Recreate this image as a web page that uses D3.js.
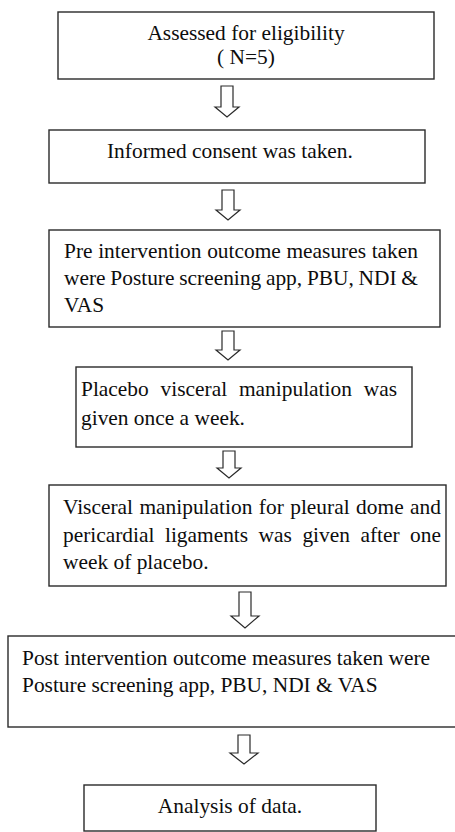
<!DOCTYPE html>
<html>
<head>
<meta charset="utf-8">
<script src="https://cdn.jsdelivr.net/npm/d3@7"></script>
<style>
  html, body { margin: 0; padding: 0; background: #fff; }
  svg { display: block; }
  text { font-family: "Liberation Serif", "Times New Roman", serif; fill: #0d0d0d; }
</style>
</head>
<body>
<svg id="chart" width="455" height="832"></svg>
<script>
// ---- Content (flowchart steps) ----
const steps = [
  "Assessed for eligibility",
  "Informed consent",
  "Pre intervention measures",
  "Placebo",
  "Visceral manipulation",
  "Post intervention measures",
  "Analysis"
];
const stepLines = [
  ["Assessed for eligibility", "( N=5)"],
  ["Informed consent was taken."],
  ["Pre intervention outcome measures taken", "were Posture screening app, PBU, NDI &", "VAS"],
  ["Placebo visceral manipulation was", "given once a week."],
  ["Visceral manipulation for pleural dome and", "pericardial ligaments was given after one", "week of placebo."],
  ["Post intervention outcome measures taken were", "Posture screening app, PBU, NDI & VAS"],
  ["Analysis of data."]
];
const sampleSize = [5];

// ---- Layout (geometry kept separate from content) ----
const boxLayout = [
  { x0: 58, x1: 434, y0: 12,  y1: 79,  align: "middle", tx: 246, base: [40, 64],  justify: [] },
  { x0: 49, x1: 425, y0: 130, y1: 183, align: "start",  tx: 107, base: [158],     justify: [] },
  { x0: 49, x1: 440, y0: 230, y1: 327, align: "start",  tx: 64,  base: [258, 285, 312], justify: [418, 418, null] },
  { x0: 76, x1: 412, y0: 367, y1: 447, align: "start",  tx: 81,  base: [396, 425], justify: [397, null] },
  { x0: 49, x1: 446, y0: 485, y1: 586, align: "start",  tx: 63,  base: [514, 542, 569], justify: [441, 441, null] },
  { x0: 8,  x1: 462, y0: 636, y1: 727, align: "start",  tx: 22,  base: [665, 692], justify: [] },
  { x0: 84, x1: 376, y0: 785, y1: 831, align: "middle", tx: 230, base: [813], justify: [] }
];
const arrowLayout = [
  { cx: 227, y0: 86,  y1: 117, shaft: 12, head: 24, headH: 10 },
  { cx: 228, y0: 190, y1: 220, shaft: 12, head: 24, headH: 10 },
  { cx: 228, y0: 331, y1: 360, shaft: 12, head: 24, headH: 10 },
  { cx: 229, y0: 451, y1: 478, shaft: 12, head: 24, headH: 10 },
  { cx: 245, y0: 592, y1: 628, shaft: 12, head: 28, headH: 12 },
  { cx: 244, y0: 735, y1: 764, shaft: 12, head: 28, headH: 11 }
];

const FONT_SIZE = 21.4;
const svg = d3.select("#chart");

// Boxes
svg.append("g").selectAll("rect")
  .data(steps)
  .join("rect")
  .attr("x", (d, i) => boxLayout[i].x0)
  .attr("y", (d, i) => boxLayout[i].y0)
  .attr("width", (d, i) => boxLayout[i].x1 - boxLayout[i].x0)
  .attr("height", (d, i) => boxLayout[i].y1 - boxLayout[i].y0)
  .attr("fill", "#fff")
  .attr("stroke", "#2a2a2a")
  .attr("stroke-width", 1.4);

// Text
const tg = svg.append("g");
stepLines.forEach((lines, i) => {
  const L = boxLayout[i];
  lines.forEach((line, j) => {
    const t = tg.append("text")
      .attr("x", L.tx)
      .attr("y", L.base[j])
      .attr("text-anchor", L.align)
      .style("font-size", FONT_SIZE + "px")
      .text(line);
    const target = L.justify[j];
    if (target) {
      const natural = t.node().getComputedTextLength();
      const gaps = line.split(" ").length - 1;
      const extra = (target - L.tx) - natural;
      if (gaps > 0) t.style("word-spacing", (extra / gaps) + "px");
    }
  });
});

// Block arrows
const arrowPath = a => {
  const p = d3.path();
  const s = a.shaft / 2, h = a.head / 2, hb = a.y1 - a.headH;
  p.moveTo(a.cx - s, a.y0);
  p.lineTo(a.cx + s, a.y0);
  p.lineTo(a.cx + s, hb);
  p.lineTo(a.cx + h, hb);
  p.lineTo(a.cx, a.y1);
  p.lineTo(a.cx - h, hb);
  p.lineTo(a.cx - s, hb);
  p.closePath();
  return p.toString();
};
svg.append("g").selectAll("path")
  .data(arrowLayout)
  .join("path")
  .attr("d", arrowPath)
  .attr("fill", "#fff")
  .attr("stroke", "#2a2a2a")
  .attr("stroke-width", 1.2)
  .attr("stroke-linejoin", "miter");
</script>
</body>
</html>
